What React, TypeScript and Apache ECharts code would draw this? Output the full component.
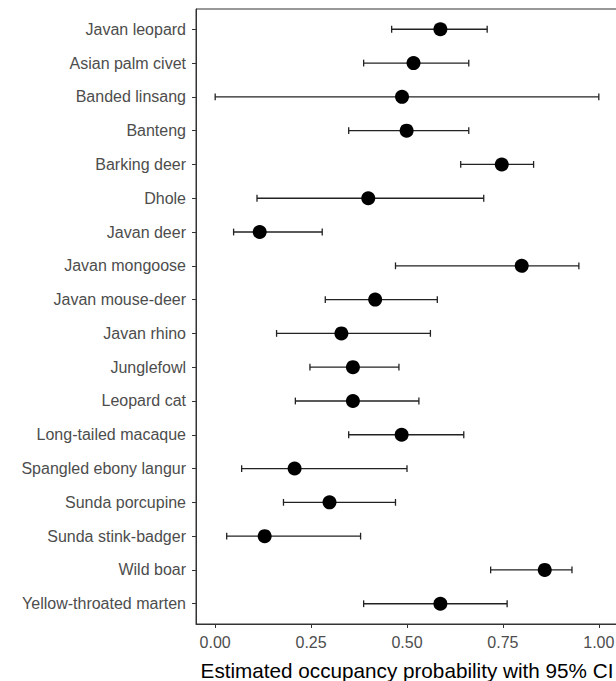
import React, { useEffect, useRef } from "react";
import * as echarts from "echarts";

const species = [
  "Javan leopard",
  "Asian palm civet",
  "Banded linsang",
  "Banteng",
  "Barking deer",
  "Dhole",
  "Javan deer",
  "Javan mongoose",
  "Javan mouse-deer",
  "Javan rhino",
  "Junglefowl",
  "Leopard cat",
  "Long-tailed macaque",
  "Spangled ebony langur",
  "Sunda porcupine",
  "Sunda stink-badger",
  "Wild boar",
  "Yellow-throated marten",
];
const estimates = [0.587, 0.517, 0.487, 0.499, 0.747, 0.399, 0.116, 0.799, 0.417, 0.329, 0.359, 0.359, 0.486, 0.207, 0.298, 0.129, 0.859, 0.587];
const lower = [0.46, 0.387, 0.0, 0.348, 0.64, 0.109, 0.048, 0.47, 0.287, 0.16, 0.247, 0.209, 0.348, 0.069, 0.178, 0.03, 0.718, 0.387];
const upper = [0.709, 0.661, 1.0, 0.661, 0.83, 0.7, 0.279, 0.948, 0.579, 0.561, 0.479, 0.531, 0.648, 0.5, 0.47, 0.379, 0.93, 0.761];
const xTicks = [0, 0.25, 0.5, 0.75, 1];
const xTitle = "Estimated occupancy probability with 95% CI";

const FONT = "'Liberation Sans', Arial, Helvetica, sans-serif";

export default function App() {
  const ref = useRef<HTMLDivElement>(null);
  useEffect(() => {
    if (!ref.current) return;
    const chart = echarts.init(ref.current, null, { renderer: "svg" });
    const yIdx = species.map((_, i) => i);
    chart.setOption({
      animation: false,
      backgroundColor: "#ffffff",
      textStyle: { fontFamily: FONT },
      grid: {
        left: 196,
        top: 9,
        width: 422,
        height: 615,
        containLabel: false,
        outerBoundsMode: "none",
        show: true,
        borderColor: "#333333",
        borderWidth: 1,
        backgroundColor: "transparent",
      },
      xAxis: {
        type: "value",
        min: -0.05,
        max: 1.05,
        axisLine: { show: true, onZero: false, lineStyle: { color: "#333333", width: 1 } },
        axisTick: { show: true, length: 4, lineStyle: { color: "#333333" }, customValues: xTicks },
        axisLabel: {
          customValues: xTicks,
          formatter: (v: number) => v.toFixed(2),
          color: "#4d4d4d",
          fontSize: 16,
          fontFamily: FONT,
          margin: 10,
        },
        splitLine: { show: false },
        name: xTitle,
        nameLocation: "middle",
        nameGap: 36,
        nameTextStyle: { color: "#000000", fontSize: 20.7, fontFamily: FONT },
      },
      yAxis: {
        type: "value",
        inverse: true,
        min: -0.6,
        max: 17.6,
        axisLine: { show: true, onZero: false, lineStyle: { color: "#333333", width: 1 } },
        axisTick: { show: true, length: 4, lineStyle: { color: "#333333" }, customValues: yIdx },
        axisLabel: {
          customValues: yIdx,
          formatter: (v: number) => species[Math.round(v)] ?? "",
          color: "#4d4d4d",
          fontSize: 16,
          fontFamily: FONT,
          margin: 10,
        },
        splitLine: { show: false },
      },
      series: [
        {
          type: "custom",
          data: species.map((_, i) => [lower[i], upper[i], i]),
          encode: { x: [0, 1], y: 2 },
          z: 2,
          renderItem: (params: any, api: any) => {
            const y = api.value(2);
            const lo = api.coord([api.value(0), y]);
            const hi = api.coord([api.value(1), y]);
            const h = 3.4;
            const style = { stroke: "#222222", lineWidth: 1.3 };
            return {
              type: "group",
              children: [
                { type: "line", shape: { x1: lo[0], y1: lo[1], x2: hi[0], y2: hi[1] }, style },
                { type: "line", shape: { x1: lo[0], y1: lo[1] - h, x2: lo[0], y2: lo[1] + h }, style },
                { type: "line", shape: { x1: hi[0], y1: hi[1] - h, x2: hi[0], y2: hi[1] + h }, style },
              ],
            };
          },
        },
        {
          type: "scatter",
          data: species.map((_, i) => [estimates[i], i]),
          symbol: "circle",
          symbolSize: 14,
          itemStyle: { color: "#000000", opacity: 1 },
          z: 3,
        },
      ],
    });
    return () => chart.dispose();
  }, []);
  return (
    <div style={{ position: "fixed", left: 0, top: 0, width: 616, height: 681, overflow: "hidden", background: "#fff" }}>
      <div ref={ref} style={{ width: 640, height: 681 }} />
    </div>
  );
}
